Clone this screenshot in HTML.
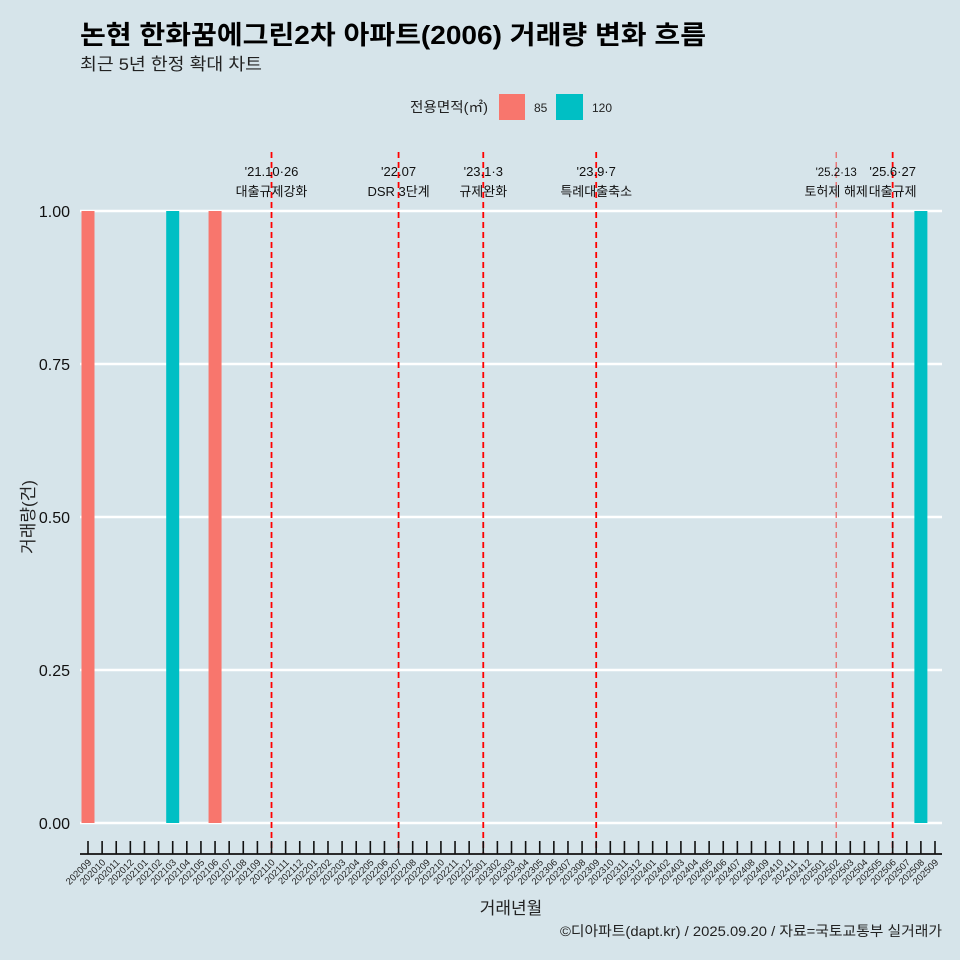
<!DOCTYPE html>
<html><head><meta charset="utf-8"><style>
body{margin:0;background:#d6e4ea;}
svg{display:block;font-family:"Liberation Sans","Noto Sans CJK KR",sans-serif;}
</style></head><body>
<svg id="c" width="960" height="960" xmlns="http://www.w3.org/2000/svg">
<rect width="960" height="960" fill="#d6e4ea"/>
<text x="80" y="44" font-size="26" font-weight="bold" fill="#000" textLength="626" lengthAdjust="spacingAndGlyphs">논현 한화꿈에그린2차 아파트(2006) 거래량 변화 흐름</text>
<text x="80" y="70" font-size="17" fill="#222" textLength="182" lengthAdjust="spacingAndGlyphs">최근 5년 한정 확대 차트</text>
<g>
<text x="410" y="112" font-size="14" fill="#222" textLength="78" lengthAdjust="spacingAndGlyphs">전용면적(㎡)</text>
<rect x="499" y="94" width="26" height="26" fill="#f8766d"/>
<text x="534" y="112" font-size="12" fill="#222">85</text>
<rect x="556" y="94" width="27" height="26" fill="#00bfc4"/>
<text x="592" y="112" font-size="12" fill="#222">120</text>
</g>
<g id="grid"></g><g id="bars"></g><g id="vlines"></g><g id="axes"></g>
<text x="511" y="914" font-size="17" text-anchor="middle" fill="#222">거래년월</text>
<text transform="translate(34,517) rotate(-90)" font-size="17" text-anchor="middle" fill="#222">거래량(건)</text>
<text x="942" y="936" font-size="14" text-anchor="end" fill="#222" textLength="382" lengthAdjust="spacingAndGlyphs">©디아파트(dapt.kr) / 2025.09.20 / 자료=국토교통부 실거래가</text>
</svg>
<script>
const months=[];for(let y=2020,m=9;y<2025||(y==2025&&m<=9);){months.push(''+y+(m<10?'0':'')+m);m++;if(m>12){m=1;y++;}}
const barMonths=['202009','202103','202106','202508'];
const barSizes=['85','120','85','120'];
const barValues=[1,1,1,1];
const yTicks=[0,0.25,0.5,0.75,1];
const yTickLabels=['0.00','0.25','0.50','0.75','1.00'];
const eventMonths=['202110','202207','202301','202309','202502','202506'];
const eventDates=["'21.10·26","'22.07","'23.1·3","'23.9·7","'25.2·13","'25.6·27"];
const eventNames=['대출규제강화','DSR 3단계','규제완화','특례대출축소','토허제 해제','대출규제'];
const NS='http://www.w3.org/2000/svg';
const xs=i=>88+i*(847/60);
const ys=v=>823-v*612;
const colors={'85':'#f8766d','120':'#00bfc4'};
function mk(p,t,a){const e=document.createElementNS(NS,t);for(const k in a)e.setAttribute(k,a[k]);document.getElementById(p).appendChild(e);return e;}
yTicks.forEach((v,i)=>{
 const l=mk('grid','line',{x1:80,x2:942,y1:ys(v),y2:ys(v),stroke:'#fff','stroke-width':2.6});
 
 
 const t=mk('grid','text',{x:70,y:ys(v)+6,'font-size':16,'text-anchor':'end',fill:'#111'});t.textContent=yTickLabels[i];
 
 
});
barMonths.forEach((m,i)=>{
 const idx=months.indexOf(m);
 const r=mk('bars','rect',{x:xs(idx)-6.5,y:ys(barValues[i]),width:13,height:ys(0)-ys(barValues[i]),fill:colors[barSizes[i]]});
 
 
});
eventMonths.forEach((m,i)=>{
 const x=xs(months.indexOf(m));
 const thin=m==='202502';
 const l=mk('vlines','line',{x1:x,x2:x,y1:152,y2:854,stroke:thin?'#f05050':'#ff0000','stroke-width':thin?1.1:1.8,'stroke-dasharray':'6,4'});
 
 
 const t1=mk('vlines','text',{x:x,y:176,'font-size':thin?11.5:13,'text-anchor':'middle',fill:'#111'});t1.textContent=eventDates[i];
 
 
 const t2=mk('vlines','text',{x:x,y:196,'font-size':13,'text-anchor':'middle',fill:'#111'});t2.textContent=eventNames[i];
 
 
});
const ax=mk('axes','line',{x1:80,x2:942,y1:854,y2:854,stroke:'#111','stroke-width':1.8});


months.forEach((m,i)=>{
 const x=xs(i);
 const tk=mk('axes','line',{x1:x,x2:x,y1:841,y2:854,stroke:'#111','stroke-width':1.6});
 
 
 const t=mk('axes','text',{transform:`translate(${x+4},${863}) rotate(-45)`,'font-size':9.5,'text-anchor':'end',fill:'#222'});t.textContent=m;
 
 
});
</script>
</body></html>
